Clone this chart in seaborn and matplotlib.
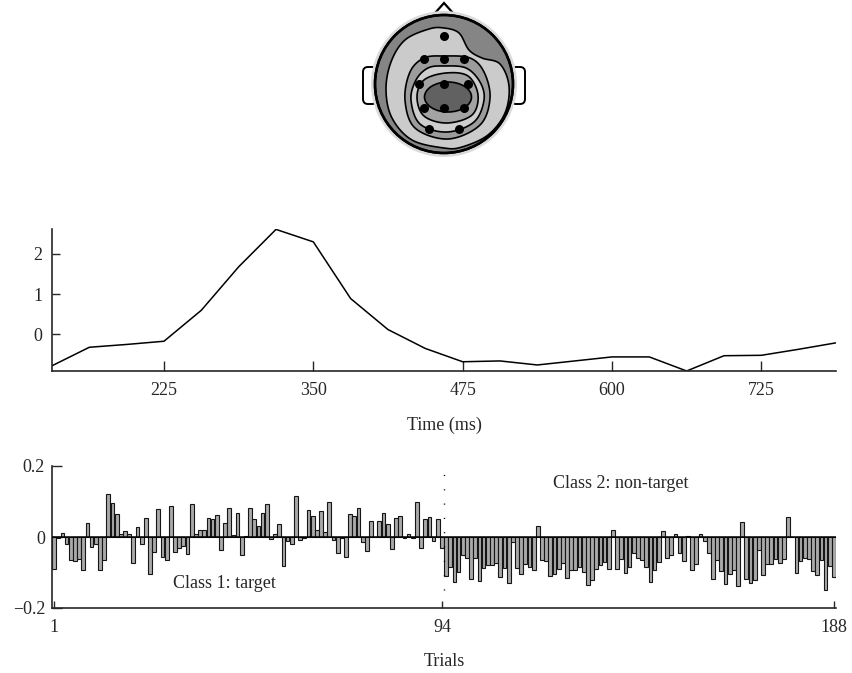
import numpy as np
import pandas as pd
import matplotlib
matplotlib.use("Agg")
import matplotlib.pyplot as plt
import seaborn as sns
from matplotlib.patches import Circle, Ellipse, Polygon, FancyBboxPatch

# ---------------- data ----------------
time_ms = [131.25, 162.5, 193.75, 225.0, 256.25, 287.5, 318.75, 350.0, 381.25,
           412.5, 443.75, 475.0, 506.25, 537.5, 568.75, 600.0, 631.25, 662.5,
           693.75, 725.0, 756.25, 787.5]
amplitude = [-0.78, -0.32, -0.25, -0.17, 0.60, 1.68, 2.61, 2.30, 0.89, 0.12,
             -0.35, -0.68, -0.66, -0.76, -0.66, -0.56, -0.56, -0.91, -0.53,
             -0.52, -0.37, -0.21]
time_ticks = [225, 350, 475, 600, 725]
amp_ticks = [0, 1, 2]

weights = [
    -0.089, -0.003, 0.012, -0.019, -0.064, -0.068, -0.061, -0.094, 0.040, -0.028,
    -0.021, -0.094, -0.064, 0.122, 0.097, 0.064, 0.009, 0.018, 0.009, -0.073,
    0.028, -0.021, 0.054, -0.105, -0.042, 0.079, -0.056, -0.064, 0.088, -0.042,
    -0.030, -0.026, -0.047, 0.094, 0.008, 0.021, 0.019, 0.054, 0.052, 0.063,
    -0.036, 0.040, 0.083, 0.007, 0.069, -0.052, 0.002, 0.083, 0.052, 0.030,
    0.069, 0.092, -0.007, 0.009, 0.036, -0.083, -0.012, -0.019, 0.115, -0.009,
    -0.003, 0.075, 0.058, 0.021, 0.072, 0.014, 0.098, -0.008, -0.045, -0.003,
    -0.056, 0.064, 0.058, 0.083, -0.014, -0.039, 0.045, 0.001, 0.045, 0.069,
    0.038, -0.034, 0.054, 0.058, -0.003, 0.009, -0.002, 0.099, -0.030, 0.050,
    0.057, -0.011, 0.052, -0.030,
    -0.111, -0.085, -0.127, -0.099, -0.050, -0.059, -0.119, -0.058, -0.124, -0.087,
    -0.080, -0.078, -0.073, -0.113, -0.087, -0.129, -0.014, -0.087, -0.103, -0.075,
    -0.085, -0.093, 0.030, -0.064, -0.068, -0.111, -0.103, -0.089, -0.073, -0.115,
    -0.092, -0.094, -0.085, -0.099, -0.136, -0.122, -0.089, -0.080, -0.070, -0.089,
    0.019, -0.089, -0.061, -0.101, -0.085, -0.045, -0.058, -0.064, -0.085, -0.127,
    -0.092, -0.070, 0.016, -0.058, -0.052, 0.009, -0.045, -0.068, 0.002, -0.092,
    -0.077, 0.009, -0.012, -0.045, -0.117, -0.064, -0.096, -0.131, -0.105, -0.092,
    -0.139, 0.042, -0.117, -0.130, -0.122, -0.038, -0.106, -0.077, -0.075, -0.061,
    -0.073, -0.061, 0.056, 0.000, -0.101, -0.068, -0.058, -0.061, -0.097, -0.108,
    -0.066, -0.148, -0.083, -0.113,
]
trials = np.arange(1, len(weights) + 1)
trial_ticks = [1, 94, 188]
class_boundary = 94.5
weight_ticks = [-0.2, 0, 0.2]
weight_tick_labels = ["\u22120.2", "0", "0.2"]
class_labels = ["Class 1: target", "Class 2: non-target"]

# electrode positions on the head sketch (pixel-like coords)
electrodes_x = [444, 424, 444, 464, 419, 444, 468, 424, 444, 464, 429, 459]
electrodes_y = [36, 59, 59, 59, 84, 84, 84, 108, 108, 108, 129, 129]

# contour outlines of the scalp map sketch (control points, pixel-like coords)
contour_a = [(444, 28), (459, 33), (469, 50), (482, 58), (500, 64), (509, 86),
             (505, 113), (488, 135), (462, 147), (444, 148), (412, 140),
             (392, 118), (386, 90), (391, 62), (405, 40), (429, 29)]
contour_b = [(444, 56), (470, 58), (484, 72), (490, 98), (480, 125), (448, 139),
             (415, 128), (405, 100), (410, 72), (424, 58)]
contour_c = [(444, 66), (466, 68), (480, 82), (484, 100), (474, 122), (447, 132),
             (420, 124), (411, 100), (416, 80), (428, 68)]
contour_d = [(446, 73), (468, 76), (478, 95), (472, 115), (447, 123), (424, 116),
             (417, 97), (424, 80)]
contour_fill = ["#cbcbcb", "#9c9c9c", "#cecece", "#a3a3a3"]

# ---------------- style ----------------
sns.set_style("ticks")
plt.rcParams["font.family"] = ["Liberation Serif", "DejaVu Serif"]
plt.rcParams["font.size"] = 13

fig = plt.figure(figsize=(8.52, 6.73), dpi=100)
W, H = 852, 673


def fig_axes(x0, x1, ytop, ybot):
    return fig.add_axes([x0 / W, 1 - ybot / H, (x1 - x0) / W, (ybot - ytop) / H])


def smooth_closed(pts, n=24):
    P = np.asarray(pts, float)
    m = len(P)
    out = []
    for i in range(m):
        p0, p1, p2, p3 = P[i - 1], P[i], P[(i + 1) % m], P[(i + 2) % m]
        for t in np.linspace(0, 1, n, endpoint=False):
            t2, t3 = t * t, t * t * t
            out.append(0.5 * (2 * p1 + (-p0 + p2) * t
                              + (2 * p0 - 5 * p1 + 4 * p2 - p3) * t2
                              + (-p0 + 3 * p1 - 3 * p2 + p3) * t3))
    return np.array(out)


# ---------------- head topography ----------------
axh = fig_axes(356, 532, 0, 176)
axh.set_xlim(356, 532)
axh.set_ylim(176, 0)
axh.set_aspect("equal")
axh.axis("off")

cx, cy, r = 444, 84, 69
axh.add_patch(Polygon([(427, 22), (444, 3), (461, 22)], closed=True,
                      facecolor="white", edgecolor="black", lw=1.6, zorder=1))
for ex in (363, 511):
    axh.add_patch(FancyBboxPatch((ex, 67), 14, 37, boxstyle="round,pad=0,rounding_size=5",
                                 facecolor="white", edgecolor="black", lw=1.4, zorder=1))
axh.add_patch(Circle((cx, cy), r + 1.2, facecolor="none", edgecolor="#dadada", lw=4, zorder=2))
head = Circle((cx, cy), r, facecolor="#858585", edgecolor="black", lw=1.8, zorder=3)
axh.add_patch(head)
for i, (pts, col) in enumerate(zip([contour_a, contour_b, contour_c, contour_d], contour_fill)):
    poly = Polygon(smooth_closed(pts), closed=True, facecolor=col, edgecolor="black",
                   lw=1.2, zorder=4 + i)
    axh.add_patch(poly)
    poly.set_clip_path(head)
axh.add_patch(Ellipse((448, 97), 47, 30, facecolor="#616161", edgecolor="black", lw=1.2, zorder=9))
axh.add_patch(Circle((cx, cy), r, facecolor="none", edgecolor="black", lw=1.8, zorder=10))
axh.scatter(electrodes_x, electrodes_y, s=30, color="black", zorder=11)

# ---------------- time course ----------------
ax1 = fig_axes(52, 836, 229, 371)
sns.lineplot(x=time_ms, y=amplitude, color="black", lw=1.1, ax=ax1)
ax1.set_xlim(131.25, 787.5)
ax1.set_ylim(-0.91, 2.62)
ax1.set_xticks(time_ticks)
ax1.set_yticks(amp_ticks)
ax1.set_xlabel("Time (ms)", labelpad=13)
ax1.set_ylabel("")
sns.despine(ax=ax1)
for sp in ("left", "bottom"):
    ax1.spines[sp].set_linewidth(1.2)
ax1.tick_params(axis="x", direction="in", length=7, width=1, pad=8, labelsize=13)
ax1.tick_params(axis="y", direction="in", length=6, width=1, pad=7, labelsize=13)

# ---------------- classifier output per trial ----------------
ax2 = fig_axes(52, 836, 466, 608)
df = pd.DataFrame({"trial": trials, "weight": weights})
sns.barplot(data=df, x="trial", y="weight", native_scale=True, width=0.9,
            color="#a9a9a9", saturation=1, edgecolor="#151515", linewidth=0.8,
            errorbar=None, ax=ax2)
ax2.axhline(0, color="black", lw=1.1, zorder=5)
ax2.vlines(class_boundary, -0.15, 0.21, color="black", lw=1.0,
           linestyles=(0, (0.8, 9.5)), clip_on=False, zorder=6)
ax2.set_xlim(0.5, 188.5)
ax2.set_ylim(-0.2, 0.2)
ax2.set_xticks(trial_ticks)
ax2.set_xticklabels([str(t) for t in trial_ticks])
ax2.set_yticks(weight_ticks)
ax2.set_yticklabels(weight_tick_labels)
ax2.set_xlabel("Trials", labelpad=12)
ax2.set_ylabel("")
sns.despine(ax=ax2)
for sp in ("left", "bottom"):
    ax2.spines[sp].set_linewidth(1.2)
ax2.tick_params(axis="x", direction="in", length=5, width=1, pad=8, labelsize=13)
ax2.tick_params(axis="y", direction="in", length=7, width=1, pad=5, labelsize=13)
ax2.text(41.8, -0.13, class_labels[0], ha="center", va="center", fontsize=13)
ax2.text(136.8, 0.151, class_labels[1], ha="center", va="center", fontsize=13)

fig.savefig("out.png", dpi=100)
